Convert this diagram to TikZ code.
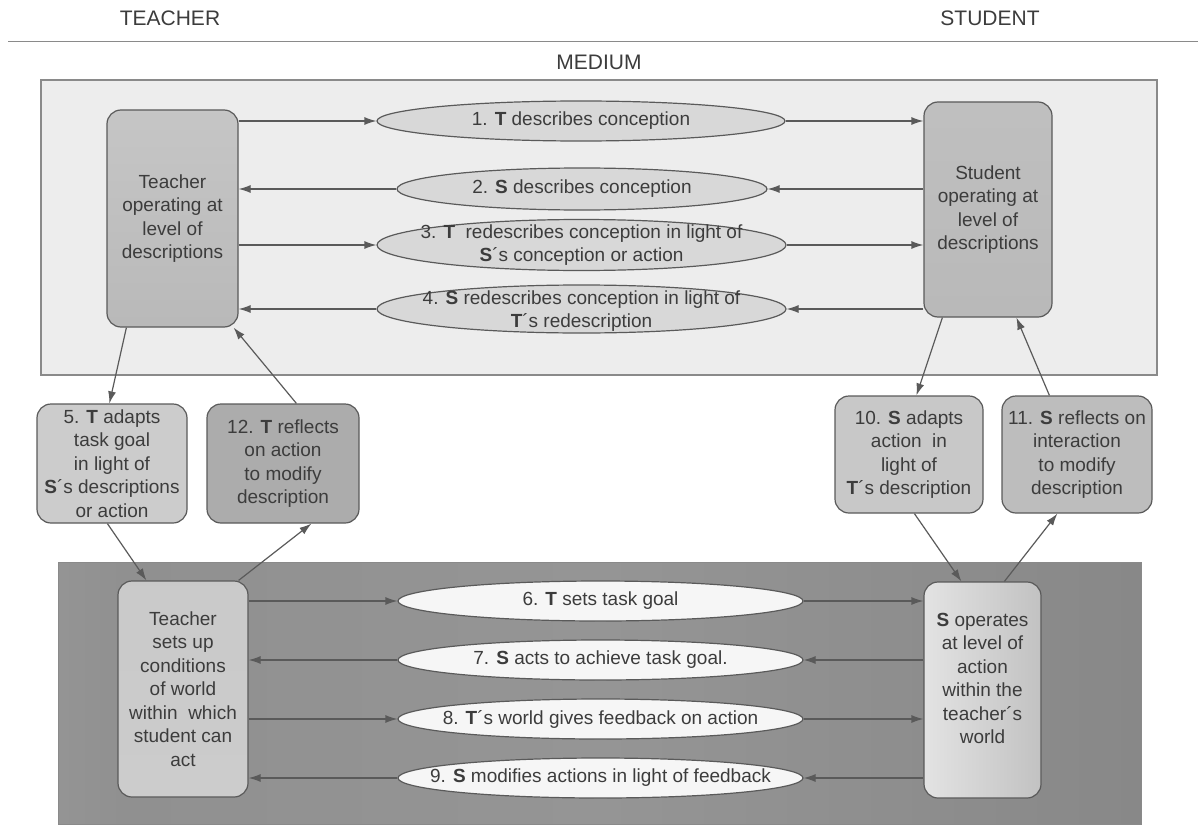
\documentclass[tikz,border=0pt]{standalone}
\usepackage{fontspec}
\setmainfont{Liberation Sans}
\usetikzlibrary{shapes.geometric,arrows.meta}
\definecolor{txt}{HTML}{3C3C3C}
\definecolor{edge}{HTML}{5A5A5A}
\definecolor{frame}{HTML}{8A8A8A}
\definecolor{mediumbg}{HTML}{EDEDED}
\definecolor{ovaltop}{HTML}{D8D8D8}
\definecolor{ovalbot}{HTML}{F6F6F6}
\definecolor{pA}{HTML}{7C7C7C}
\definecolor{pB}{HTML}{8E8E8E}
\definecolor{pC}{HTML}{9E9E9E}
\definecolor{pD}{HTML}{909090}
\definecolor{pE}{HTML}{959595}
\definecolor{pF}{HTML}{888888}
\definecolor{pG}{HTML}{707070}
\definecolor{pH}{HTML}{828282}
\definecolor{pI}{HTML}{6C6C6C}
\pgfdeclarehorizontalshading{panelshade}{100bp}{color(0bp)=(pA); color(12bp)=(pB); color(18bp)=(pC); color(28bp)=(pD); color(50bp)=(pE); color(75bp)=(pF); color(88bp)=(pG); color(95bp)=(pH); color(100bp)=(pI)}
\begin{document}
\begin{tikzpicture}[x=1pt,y=-1pt,
  every node/.style={font=\fontsize{19}{23.5}\selectfont, text=txt, align=center},
  hdr/.style={font=\fontsize{21}{25}\selectfont},
  box/.style={draw=edge, line width=1.2pt, rounded corners=14pt, inner sep=0pt},
  oval/.style={ellipse, draw=edge, line width=1.2pt, inner sep=0pt},
  arr/.style={draw=edge, line width=1.2pt, -{Latex[length=12pt,width=8pt]}},
]
\useasboundingbox (0,0) rectangle (1198,824);

% headings
\node[hdr] (teacher) at (170,18) {TEACHER};
\node[hdr] (student) at (990,18) {STUDENT};
\coordinate (hl) at (8,42);
\coordinate (hr) at (1198,42);
\draw[frame, line width=1pt] (hl) -- (hr);
\node[hdr] (medium) at (599,62) {MEDIUM};

% medium frame
\node[draw=frame, line width=1.2pt, fill=mediumbg, minimum width=1116, minimum height=295, inner sep=0pt] (mframe) at (599,227.5) {};

% world panel
\node[shading=panelshade, draw=frame, line width=0.8pt, minimum width=1083, minimum height=262, inner sep=0pt] (panel) at (599.5,693) {};

% description boxes
\node[box, minimum width=131, minimum height=217, top color=gray!45, middle color=gray!85!black!55, bottom color=gray!55] (tdesc) at (172.5,218.5) {Teacher\\operating at\\level of\\descriptions};
\node[box, minimum width=128, minimum height=215, top color=gray!50, middle color=gray!85!black!55, bottom color=gray!55] (sdesc) at (988,209.5) {Student\\operating at\\level of\\descriptions};

% top ovals
\node[oval, fill=ovaltop, minimum width=408, minimum height=40] (e1) at (581,121) {};
\node (t1) at (e1.center) {1. \textbf{T} describes conception};
\node[oval, fill=ovaltop, minimum width=370, minimum height=42] (e2) at (582,189) {};
\node (t2) at (e2.center) {2. \textbf{S} describes conception};
\node[oval, fill=ovaltop, minimum width=409, minimum height=51] (e3) at (581.5,245) {};
\node (t3) at (e3.center) {3. \textbf{T}\ \ redescribes conception in light of\\\textbf{S}´s conception or action};
\node[oval, fill=ovaltop, minimum width=409, minimum height=48] (e4) at (581.5,309) {};
\node (t4) at ([yshift=-2pt]e4.center) {4. \textbf{S} redescribes conception in light of\\\textbf{T}´s redescription};

\draw[arr] (e1.west -| tdesc.east) -- (e1.west);
\draw[arr] (e1.east) -- (e1.east -| sdesc.west);
\draw[arr] (e2.east -| sdesc.west) -- (e2.east);
\draw[arr] (e2.west) -- (e2.west -| tdesc.east);
\draw[arr] (e3.west -| tdesc.east) -- (e3.west);
\draw[arr] (e3.east) -- (e3.east -| sdesc.west);
\draw[arr] (e4.east -| sdesc.west) -- (e4.east);
\draw[arr] (e4.west) -- (e4.west -| tdesc.east);

% middle boxes
\node[box, fill=gray!40, minimum width=150, minimum height=119] (b5) at (112,463.5) {5. \textbf{T} adapts\\task goal\\in light of\\\textbf{S}´s descriptions\\or action};
\node[box, fill=gray!65, minimum width=152, minimum height=119] (b12) at (283,463.5) {12. \textbf{T} reflects\\on action\\to modify\\description};
\node[box, fill=gray!43, minimum width=148, minimum height=117] (b10) at (909,454.5) {10. \textbf{S} adapts\\action\ \ in\\light of\\\textbf{T}´s description};
\node[box, fill=gray!52, minimum width=150, minimum height=117] (b11) at (1077,454.5) {11. \textbf{S} reflects on\\interaction\\to modify\\description};

% world boxes
\node[box, minimum width=130, minimum height=216, top color=gray!42, middle color=gray!25, bottom color=gray!40] (tw) at (183,689) {Teacher\\sets up\\conditions\\of world\\within\ \ which\\student can\\act};
\node[box, minimum width=117, minimum height=216, left color=gray!22, right color=gray!48] (sw) at (982.5,690) {};
\node (swtxt) at (982.5,678.5) {\textbf{S} operates\\at level of\\action\\within the\\teacher´s\\world};

% bottom ovals
\node[oval, fill=ovalbot, minimum width=405, minimum height=40] (e6) at (600.5,601) {};
\node (t6) at (e6.center) {6. \textbf{T} sets task goal};
\node[oval, fill=ovalbot, minimum width=405, minimum height=40] (e7) at (600.5,660) {};
\node (t7) at (e7.center) {7. \textbf{S} acts to achieve task goal.};
\node[oval, fill=ovalbot, minimum width=405, minimum height=40] (e8) at (600.5,719) {};
\node (t8) at (e8.center) {8. \textbf{T}´s world gives feedback on action};
\node[oval, fill=ovalbot, minimum width=405, minimum height=40] (e9) at (600.5,778) {};
\node (t9) at (e9.center) {9. \textbf{S} modifies actions in light of feedback};

\draw[arr] (e6.west -| tw.east) -- (e6.west);
\draw[arr] (e6.east) -- (e6.east -| sw.west);
\draw[arr] (e7.east -| sw.west) -- (e7.east);
\draw[arr] (e7.west) -- (e7.west -| tw.east);
\draw[arr] (e8.west -| tw.east) -- (e8.west);
\draw[arr] (e8.east) -- (e8.east -| sw.west);
\draw[arr] (e9.east -| sw.west) -- (e9.east);
\draw[arr] (e9.west) -- (e9.west -| tw.east);

% vertical links, teacher side
\draw[arr] ([xshift=20pt]tdesc.south west) -- ([xshift=73pt]b5.north west);
\draw[arr] ([xshift=90pt]b12.north west) -- ([xshift=-5pt]tdesc.south east);
\draw[arr] ([xshift=71pt]b5.south west) -- ([xshift=29pt]tw.north west);
\draw[arr] ([xshift=-10pt]tw.north east) -- ([xshift=105pt]b12.south west);

% vertical links, student side
\draw[arr] ([xshift=19pt]sdesc.south west) -- ([xshift=82pt]b10.north west);
\draw[arr] ([xshift=48pt]b11.north west) -- ([xshift=93pt]sdesc.south west);
\draw[arr] ([xshift=80pt]b10.south west) -- ([xshift=38pt]sw.north west);
\draw[arr] ([xshift=81pt]sw.north west) -- ([xshift=56pt]b11.south west);
\end{tikzpicture}
\end{document}
